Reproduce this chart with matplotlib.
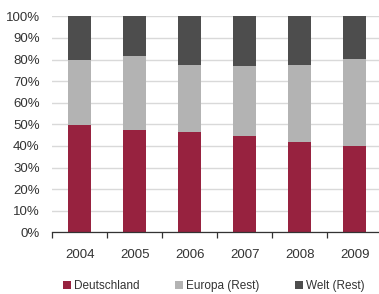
import numpy as np
import matplotlib.pyplot as plt
from matplotlib.patches import Patch

plt.rcParams['font.family'] = ['Liberation Sans', 'DejaVu Sans']

# ---- data (shares in %) ----
years = ["2004", "2005", "2006", "2007", "2008", "2009"]
deutschland = [49.5, 47.5, 46.4, 44.7, 41.9, 40.1]
europa_rest = [30.3, 34.3, 31.2, 32.4, 35.7, 40.1]
welt_rest = [20.2, 18.2, 22.4, 22.9, 22.4, 19.8]

colors = ["#97223f", "#b3b3b3", "#4d4d4d"]
labels = ["Deutschland", "Europa (Rest)", "Welt (Rest)"]

W, H = 379, 294
fig = plt.figure(figsize=(W / 100, H / 100), dpi=100)
ax = fig.add_axes([52.3 / W, (H - 232.3) / H, 330 / W, 216 / H])

x = np.arange(len(years))
bw = 0.42
bottom = np.zeros(len(years))
for vals, c in zip([deutschland, europa_rest, welt_rest], colors):
    ax.bar(x, vals, bw, bottom=bottom, color=c, zorder=3)
    bottom += np.array(vals)

ax.set_xlim(-0.5, 5.5)
ax.set_ylim(0, 100)
ax.set_yticks(np.arange(0, 101, 10))
ax.set_yticklabels([f"{v}%" for v in range(0, 101, 10)])
ax.grid(axis='y', color='#d9d9d9', linewidth=1.0, zorder=0)
ax.set_axisbelow(True)

ax.set_xticks(x)
ax.set_xticklabels(years)
ax.set_xticks(np.arange(-0.5, 6.0, 1.0), minor=True)
ax.tick_params(axis='x', which='major', length=0, pad=12, labelsize=9.5, labelcolor='#333333')
ax.tick_params(axis='x', which='minor', length=4.5, width=0.9, color='#333333', direction='out')
ax.tick_params(axis='y', length=0, pad=9, labelsize=9.5, labelcolor='#333333')

for s in ['top', 'right', 'left']:
    ax.spines[s].set_visible(False)
ax.spines['bottom'].set_color('#333333')
ax.spines['bottom'].set_linewidth(0.9)
ax.spines['bottom'].set_zorder(4)

handles = [Patch(facecolor=c, edgecolor='none') for c in colors]
fig.legend(handles, labels, loc='center left', bbox_to_anchor=(63 / W, 1 - 286 / H),
           ncol=3, frameon=False, fontsize=8.5, handlelength=0.7, handleheight=0.7,
           handletextpad=0.25, columnspacing=3.0, borderpad=0, borderaxespad=0,
           labelcolor='#333333')

fig.savefig("out.png", dpi=100)
